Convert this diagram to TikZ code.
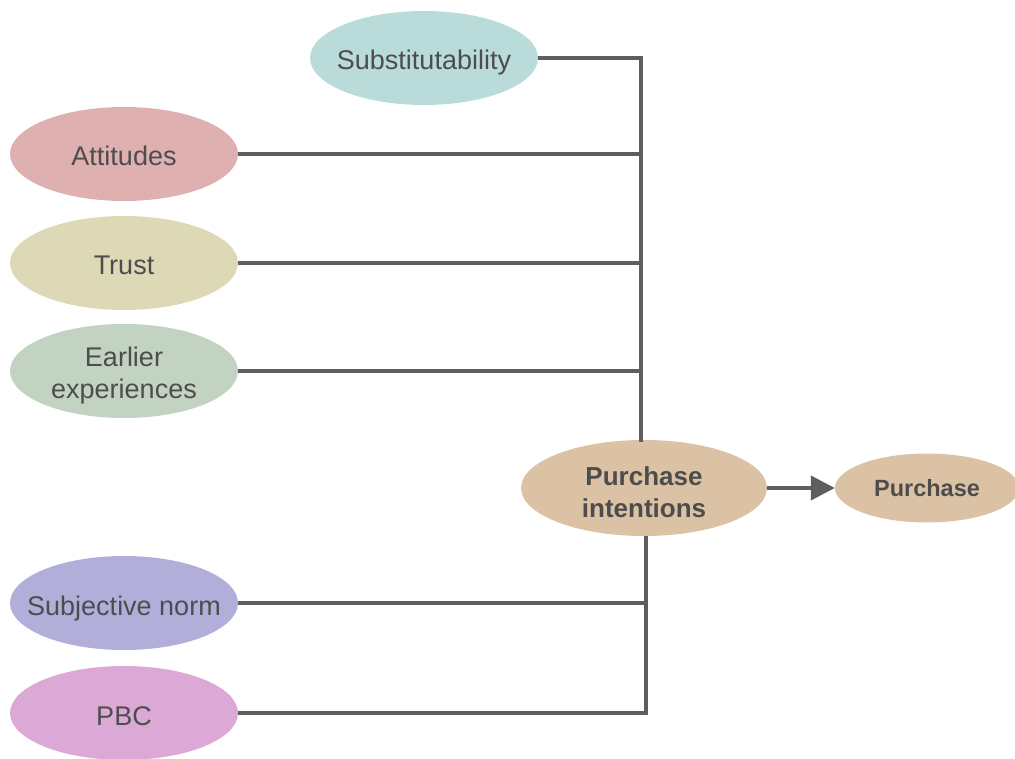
\documentclass[tikz,border=0pt]{standalone}
\usepackage{fontspec}
\setmainfont{Liberation Sans}
\usetikzlibrary{shapes.geometric,arrows.meta}
\definecolor{subc}{HTML}{B9DCDA}
\definecolor{attc}{HTML}{DEB0B0}
\definecolor{trc}{HTML}{DDD8B6}
\definecolor{earc}{HTML}{C3D3C1}
\definecolor{sjc}{HTML}{B2AEDA}
\definecolor{pbcc}{HTML}{DCA8D6}
\definecolor{purc}{HTML}{DCC2A5}
\definecolor{linec}{HTML}{5E5E5E}
\definecolor{txtc}{HTML}{4D4D4D}
\tikzset{
  factor/.style={ellipse, inner xsep=-40pt, inner ysep=-15pt, minimum width=228pt, minimum height=94pt, text=txtc, align=center, font=\fontsize{27}{31.5}\selectfont, text height=24pt, text depth=0pt},
  link/.style={draw=linec, line width=4pt},
}
\begin{document}
\begin{tikzpicture}[x=1pt,y=-1pt]
\useasboundingbox (0,0) rectangle (1015,759);
\node[factor, fill=subc] (sub) at (424,58) {Substitutability};
\node[factor, fill=attc] (att) at (124,154) {Attitudes};
\node[factor, fill=trc] (tr) at (124,263) {Trust};
\node[factor, fill=earc, text height=54pt] (ear) at (124,371) {Earlier\\experiences};
\node[factor, fill=sjc] (sj) at (124,603) {Subjective norm};
\node[factor, fill=pbcc] (pbc) at (124,713) {PBC};
\node[factor, fill=purc, minimum width=246pt, minimum height=96pt, font=\fontsize{26}{32}\selectfont\bfseries, text height=58pt] (pi) at (644,488) {Purchase\\intentions};
\node[factor, fill=purc, minimum width=184pt, minimum height=69pt, font=\fontsize{23.5}{28}\selectfont\bfseries, text height=17pt] (pur) at (927,488) {Purchase};
\coordinate (midc) at (641,442);
\coordinate (lowc) at (646,536);
\coordinate (botc) at (646,713);
\draw[link] (sub.east) -| (midc);
\draw[link] (att.east) -- (att.east -| midc);
\draw[link] (tr.east) -- (tr.east -| midc);
\draw[link] (ear.east) -- (ear.east -| midc);
\draw[link] (lowc) -- (botc) -- (pbc.east);
\draw[link] (sj.east) -- (sj.east -| botc);
\draw[link, -{Triangle[length=24pt,width=24pt]}] (pi.east) -- (pur.west |- pi.east);
\end{tikzpicture}
\end{document}
